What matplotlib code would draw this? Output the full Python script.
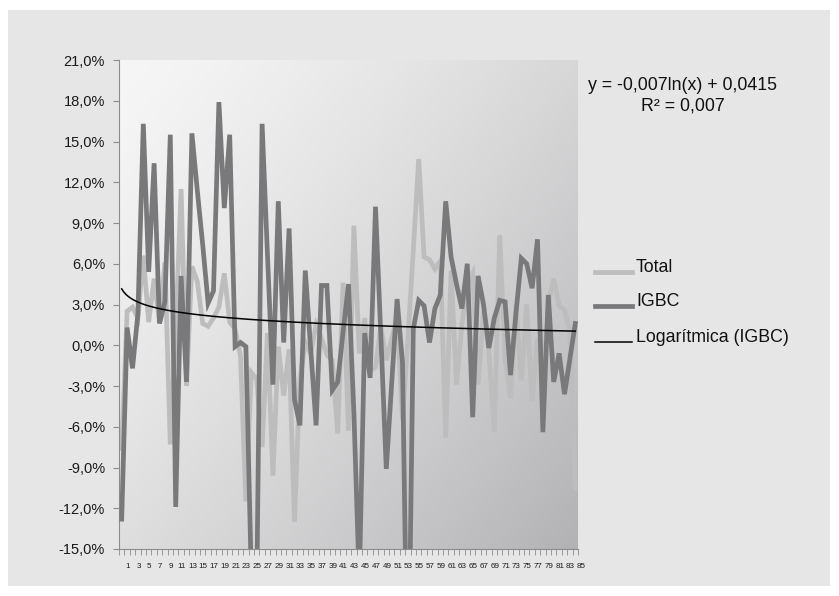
import numpy as np
import matplotlib
matplotlib.use("Agg")
import matplotlib.pyplot as plt
import matplotlib.transforms as mtransforms
from matplotlib.ticker import FuncFormatter, FixedLocator
from matplotlib.patches import Rectangle
from matplotlib.lines import Line2D

plt.rcParams['font.family'] = ['Liberation Sans', 'DejaVu Sans']

# ---- data (percent) ----
periods = list(range(1, 86))
igbc = [-12.8, 1.3, -1.7, 2.3, 16.3, 5.4, 13.4, 1.6, 3.2, 15.5,
        -11.9, 5.1, -2.7, 15.6, 11.4, 7.4, 3.1, 4.0, 17.9, 10.1,
        15.5, -0.1, 0.2, -0.1, -17.0, -18.5, 16.3, 6.6, -2.9, 10.6,
        0.2, 8.6, -4.0, -5.9, 5.5, -0.3, -5.9, 4.4, 4.4, -3.3,
        -2.7, 1.0, 4.5, -5.0, -17.5, 0.9, -2.4, 10.2, 0.6, -9.1,
        -2.8, 3.4, -1.3, -28.0, 1.2, 3.3, 2.9, 0.2, 2.7, 3.7,
        10.6, 6.5, 4.5, 2.7, 6.0, -5.3, 5.1, 3.0, -0.2, 2.0,
        3.3, 3.2, -2.2, 2.3, 6.4, 6.0, 4.2, 7.8, -6.4, 3.7,
        -2.7, -0.6, -3.6, -1.0, 1.6]
total = [-7.6, 2.5, 2.8, 2.0, 6.6, 1.7, 4.9, 1.7, 6.1, -7.3,
         1.0, 11.5, -3.0, 5.8, 4.7, 1.6, 1.4, 2.0, 2.8, 5.3,
         1.7, 1.2, -0.8, -11.5, -2.0, -2.5, -7.5, 0.9, -9.6, -0.1,
         -3.7, -0.3, -13.0, -2.5, 0.2, -0.6, 1.5, 0.5, -0.7, -1.1,
         -6.5, 4.6, -6.3, 8.8, -0.6, 2.0, -1.9, -1.6, 1.4, -1.1,
         0.5, 2.0, -5.5, 0.5, 7.0, 13.7, 6.5, 6.3, 5.6, 6.2,
         -6.8, 5.5, -2.9, 1.5, 4.5, 5.3, -2.9, 2.5, -0.5, -6.4,
         8.1, -1.0, -3.9, 3.0, -2.6, 3.0, -4.1, 0.5, -2.6, 3.0,
         4.9, 2.9, 2.6, 1.0, -10.5]
trend_a = -0.007   # coefficient of ln(x)
trend_b = 0.0415   # intercept
y_ticks = [-15, -12, -9, -6, -3, 0, 3, 6, 9, 12, 15, 18, 21]
x_labels = [str(p) for p in periods if p % 2 == 1]
series_names = ["Total", "IGBC", "Logarítmica (IGBC)"]
eq_text = "y = -0,007ln(x) + 0,0415"
r2_text = "R² = 0,007"

W, H = 839, 596
fig = plt.figure(figsize=(W / 100, H / 100), dpi=100)
fig.patch.set_facecolor("white")
bg = Rectangle((8 / W, 10 / H), 822 / W, 576 / H, transform=fig.transFigure,
               facecolor="#e6e6e7", edgecolor="none", zorder=-10)
fig.add_artist(bg)

ax = fig.add_axes([119 / W, (H - 549) / H, 459 / W, 489 / H])
ax.set_zorder(1)
ax.set_facecolor("none")
ax.set_xlim(0.5, 85.5)
ax.set_ylim(-15, 21)

# gradient background
nx, ny = 200, 200
u = np.linspace(0, 1, nx)[None, :]
v = np.linspace(0, 1, ny)[:, None]  # 0 top -> 1 bottom
t = np.clip(0.55 * u + 0.45 * v, 0, 1) ** 1.3
c0 = np.array([0.965, 0.965, 0.965])
c1 = np.array([0.70, 0.70, 0.71])
img = c0[None, None, :] + (c1 - c0)[None, None, :] * t[:, :, None]
ax.imshow(img, extent=[0.5, 85.5, -15, 21], aspect="auto", origin="upper",
          zorder=0, interpolation="bilinear")

ax.plot(periods, total, color="#bdbdbd", lw=3.4, zorder=2, solid_joinstyle="miter")
ax.plot(periods, igbc, color="#79797b", lw=3.4, zorder=3, solid_joinstyle="miter")
xs = np.linspace(1, 85, 400)
ax.plot(xs, (trend_a * np.log(xs) + trend_b) * 100, color="black", lw=1.1, zorder=4)

# axes styling
for s in ["top", "right"]:
    ax.spines[s].set_visible(False)
for s in ["left", "bottom"]:
    ax.spines[s].set_color("#8c8c8c")
    ax.spines[s].set_linewidth(0.8)

ax.set_yticks(y_ticks)
ax.yaxis.set_major_formatter(FuncFormatter(lambda val, pos: f"{val:.1f}%".replace(".", ",")))
ax.tick_params(axis="y", length=4, color="#8c8c8c", labelsize=10.5, labelcolor="#1a1a1a", pad=6)

ax.xaxis.set_major_locator(FixedLocator([p for p in periods if p % 2 == 1]))
ax.set_xticklabels(x_labels)
ax.xaxis.set_minor_locator(FixedLocator(list(np.arange(0.5, 86, 1.0))))
ax.tick_params(axis="x", which="major", length=0, labelsize=5.8, labelcolor="#1a1a1a", pad=10)
ax.tick_params(axis="x", which="minor", length=4, color="#8c8c8c")
shift = mtransforms.ScaledTranslation(6 / 100, 0, fig.dpi_scale_trans)
for lab in ax.get_xticklabels():
    lab.set_transform(lab.get_transform() + shift)

# equation text
fig.text(683 / W, 1 - 86 / H, eq_text, ha="center", va="center", fontsize=12.8, color="#111111")
fig.text(683 / W, 1 - 106 / H, r2_text, ha="center", va="center", fontsize=12.8, color="#111111")

# legend (manual)
leg_items = [(series_names[0], "#bdbdbd", 3.4, 268),
             (series_names[1], "#79797b", 3.4, 302),
             (series_names[2], "black", 1.1, 338)]
for name, col, lw, yy in leg_items:
    fig.add_artist(Line2D([595 / W, 632 / W], [1 - (yy + 4) / H] * 2,
                          transform=fig.transFigure, color=col, lw=lw))
    fig.text(636 / W, 1 - yy / H, name, ha="left", va="center", fontsize=12.8, color="#111111")

fig.savefig("out.png", dpi=100, facecolor=fig.get_facecolor())
